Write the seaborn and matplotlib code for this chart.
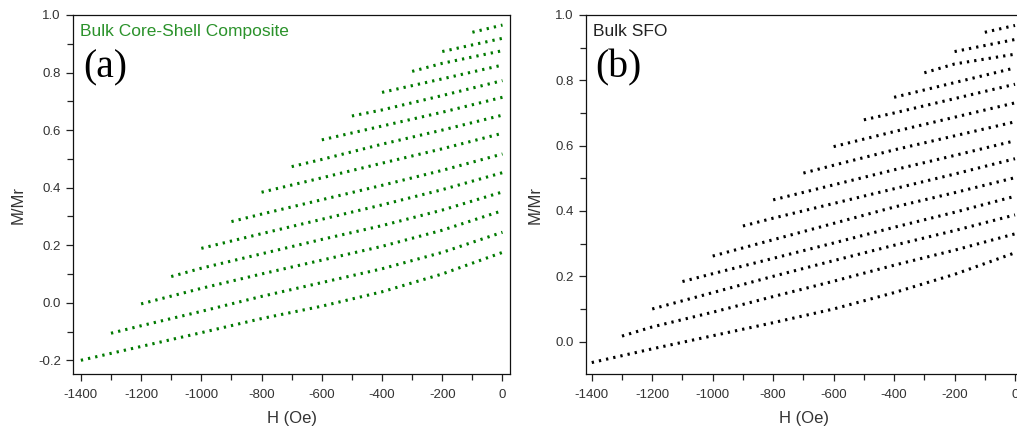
import matplotlib
matplotlib.use("Agg")
import matplotlib.pyplot as plt
from matplotlib.ticker import MultipleLocator, FormatStrFormatter
import pandas as pd
import seaborn as sns

# First-order reversal curves: each starts at its reversal field and runs to H = 0.
reversal_fields = [-1400, -1300, -1200, -1100, -1000, -900, -800,
                   -700, -600, -500, -400, -300, -200, -100]
# Field values sampled along every curve after its starting point
field_steps = [-1200, -1000, -800, -600, -400, -200, 0]

# M/Mr values, one list per reversal curve (start point first)
composite_curves = [
    [-0.200, -0.152, -0.104, -0.055, -0.012, 0.038, 0.100, 0.175],
    [-0.106, -0.080, -0.030, 0.022, 0.070, 0.118, 0.175, 0.245],
    [-0.004, 0.050, 0.100, 0.148, 0.196, 0.252, 0.320],
    [0.091, 0.120, 0.170, 0.220, 0.268, 0.322, 0.385],
    [0.189, 0.240, 0.290, 0.340, 0.393, 0.452],
    [0.282, 0.308, 0.358, 0.408, 0.460, 0.517],
    [0.384, 0.434, 0.485, 0.535, 0.589],
    [0.473, 0.498, 0.551, 0.600, 0.652],
    [0.566, 0.614, 0.662, 0.714],
    [0.649, 0.670, 0.720, 0.772],
    [0.731, 0.778, 0.826],
    [0.804, 0.832, 0.876],
    [0.873, 0.919],
    [0.940, 0.965],
]

sfo_curves = [
    [-0.064, -0.022, 0.018, 0.058, 0.100, 0.150, 0.206, 0.272],
    [0.017, 0.045, 0.090, 0.138, 0.185, 0.234, 0.280, 0.330],
    [0.100, 0.150, 0.200, 0.248, 0.295, 0.340, 0.388],
    [0.184, 0.208, 0.255, 0.302, 0.350, 0.396, 0.445],
    [0.262, 0.312, 0.362, 0.412, 0.456, 0.502],
    [0.354, 0.378, 0.423, 0.468, 0.513, 0.560],
    [0.434, 0.480, 0.526, 0.570, 0.615],
    [0.516, 0.540, 0.587, 0.630, 0.673],
    [0.597, 0.643, 0.687, 0.731],
    [0.679, 0.700, 0.744, 0.788],
    [0.748, 0.793, 0.838],
    [0.823, 0.850, 0.880],
    [0.888, 0.925],
    [0.947, 0.968],
]


def curves_frame(curves):
    rows = []
    for hr, values in zip(reversal_fields, curves):
        fields = [hr] + [h for h in field_steps if h > hr]
        assert len(fields) == len(values)
        for h, m in zip(fields, values):
            rows.append({"Hr": hr, "H": h, "M": m})
    return pd.DataFrame(rows)


sns.set_theme(style="ticks")
plt.rcParams["font.family"] = ["Liberation Sans", "DejaVu Sans"]
plt.rcParams["axes.unicode_minus"] = False

fig = plt.figure(figsize=(10.17, 4.33), dpi=100)
ax_a = fig.add_axes([0.0721, 0.1363, 0.4294, 0.8291])
ax_b = fig.add_axes([0.5762, 0.1363, 0.4293, 0.8291])

panels = [
    (ax_a, composite_curves, "#007a00", (-1425, 25), (-0.2476, 1.0),
     "Bulk Core-Shell Composite", "#2b922b", "(a)", -0.110),
    (ax_b, sfo_curves, "#000000", (-1419, 25), (-0.099, 1.0),
     "Bulk SFO", "#222222", "(b)", -0.100),
]

text_grey = "#333333"
for ax, curves, color, xlim, ylim, title, title_color, tag, ylab_x in panels:
    df = curves_frame(curves)
    sns.lineplot(data=df, x="H", y="M", units="Hr", estimator=None,
                 color=color, linewidth=2.2, legend=False, ax=ax)
    for line in ax.lines:
        line.set_linestyle((0, (0.75, 1.65)))
        line.set_dash_capstyle("butt")

    ax.set_xlim(*xlim)
    ax.set_ylim(*ylim)
    ax.xaxis.set_major_locator(MultipleLocator(200))
    ax.xaxis.set_minor_locator(MultipleLocator(100))
    ax.yaxis.set_major_locator(MultipleLocator(0.2))
    ax.yaxis.set_minor_locator(MultipleLocator(0.1))
    ax.yaxis.set_major_formatter(FormatStrFormatter("%.1f"))
    ax.tick_params(which="both", direction="out", colors="#222222",
                   labelcolor=text_grey, labelsize=9.5, width=0.9,
                   top=False, right=False)
    ax.tick_params(which="major", length=5, pad=4)
    ax.tick_params(axis="x", which="major", pad=6)
    ax.tick_params(which="minor", length=4)
    for s in ax.spines.values():
        s.set_visible(True)
        s.set_linewidth(0.9)
        s.set_color("#111111")

    ax.set_xlabel("H (Oe)", fontsize=12, color=text_grey, labelpad=7)
    ax.set_ylabel("M/Mr", fontsize=12, color=text_grey)
    ax.yaxis.set_label_coords(ylab_x, 0.47)

    ax.text(0.015, 0.975, title, transform=ax.transAxes, fontsize=12.5,
            color=title_color, ha="left", va="top")
    ax.text(0.022, 0.905, tag, transform=ax.transAxes, fontsize=28.5,
            family="Liberation Serif", color="black", ha="left", va="top")

fig.savefig("out.png", dpi=100)
